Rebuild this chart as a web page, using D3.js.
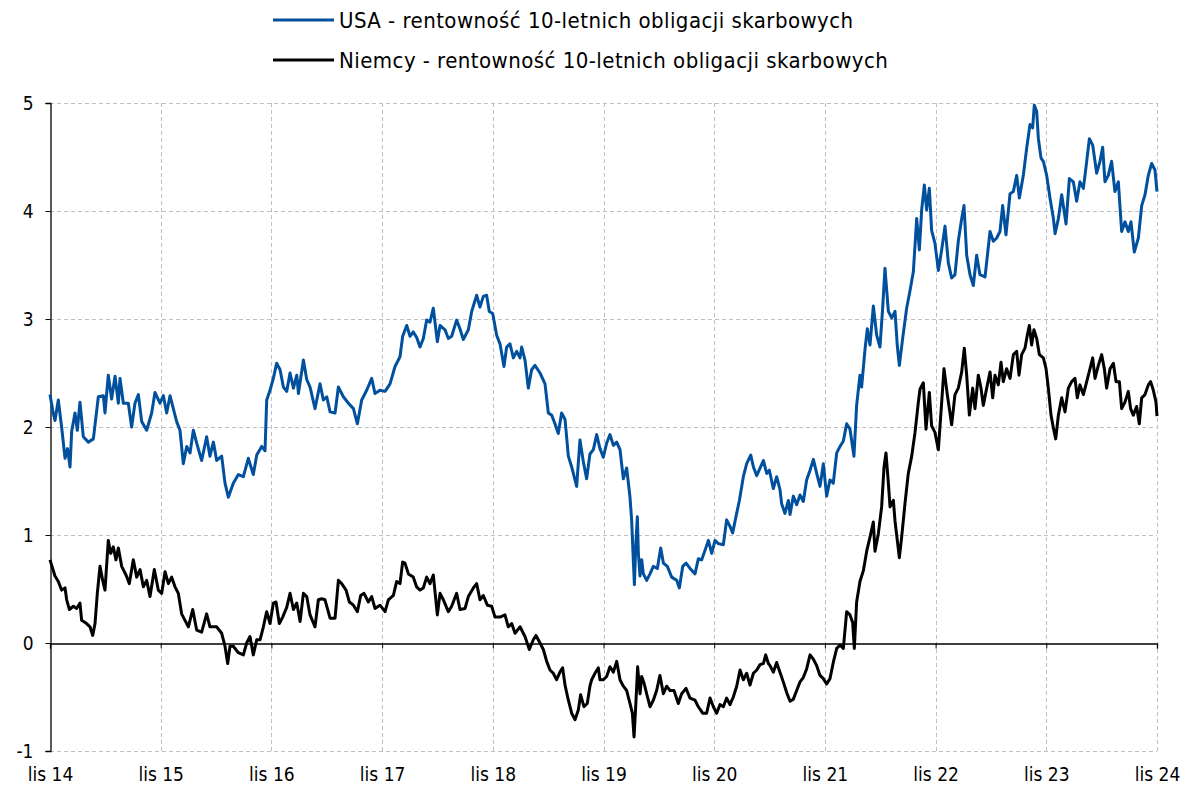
<!DOCTYPE html>
<html>
<head>
<meta charset="utf-8">
<script src="https://cdn.jsdelivr.net/npm/d3@7"></script>
<style>
  html, body { margin: 0; padding: 0; background: #ffffff; }
  svg { display: block; }
  text { font-family: "DejaVu Sans Condensed", "Liberation Sans Narrow", "Liberation Sans", sans-serif; fill: #000; }
</style>
</head>
<body>
<svg id="chart" width="1194" height="799"></svg>
<script>
// ---- data (months since lis 2014, value in %) ----
const xTickLabels = ["lis 14","lis 15","lis 16","lis 17","lis 18","lis 19","lis 20","lis 21","lis 22","lis 23","lis 24"];
const xTickMonths = [0,12,24,36,48,60,72,84,96,108,120];
const yTicks = [-1,0,1,2,3,4,5];
const seriesNames = ["USA - rentowność 10-letnich obligacji skarbowych", "Niemcy - rentowność 10-letnich obligacji skarbowych"];

const usaMonths = [0.0,0.3,0.54,0.9,1.26,1.63,1.9,2.17,2.35,2.71,2.96,3.25,3.61,4.16,4.70,5.24,5.78,5.96,6.32,6.68,7.05,7.41,7.59,7.95,8.49,8.85,9.21,9.58,9.94,10.48,11.02,11.38,11.92,12.29,12.65,13.01,13.37,13.73,14.09,14.45,14.82,15.18,15.54,15.90,16.44,16.98,17.34,17.71,18.07,18.61,18.97,19.33,
19.87,20.42,20.96,21.50,22.04,22.41,22.95,23.31,23.49,23.85,24.21,24.57,24.94,25.30,25.66,26.02,26.39,26.75,26.93,27.47,27.83,28.19,28.73,29.27,29.63,30.00,30.36,30.90,31.26,31.80,32.35,32.89,33.32,33.79,34.33,34.87,35.23,35.77,36.32,36.86,37.40,37.94,38.23,38.67,39.03,
39.38,39.74,40.11,40.47,40.83,41.19,41.55,41.99,42.28,42.82,43.18,43.54,44.08,44.44,44.80,45.35,45.71,46.25,46.61,46.97,47.33,47.62,47.99,48.42,48.78,49.21,49.50,49.86,50.23,50.59,50.95,51.13,51.49,51.85,52.21,52.57,53.12,53.66,54.02,54.38,54.74,55.10,55.46,55.83,56.19,56.55,57.09,57.45,57.81,58.17,58.53,
58.90,59.26,59.62,59.98,60.34,60.70,61.07,61.43,61.79,62.15,62.51,62.87,63.05,63.23,63.35,63.49,63.67,63.78,63.96,64.14,64.32,64.68,65.04,65.40,65.84,66.20,66.49,66.92,67.39,67.93,68.22,68.59,68.95,69.38,69.92,70.28,70.65,71.01,71.37,71.73,72.09,72.45,72.99,73.35,73.71,74.00,74.36,74.73,75.16,75.52,75.96,76.25,76.61,76.97,77.33,77.69,77.98,
78.41,78.77,79.13,79.31,79.67,80.04,80.22,80.58,80.94,81.30,81.66,82.02,82.39,82.75,83.11,83.47,83.83,84.19,84.55,84.91,85.28,85.64,86.00,86.36,86.72,87.15,87.44,87.80,87.98,88.35,88.60,88.89,89.25,89.61,89.97,90.26,90.51,90.88,91.24,91.60,91.85,92.07,92.43,92.86,93.22,93.59,93.95,94.24,94.49,94.78,95.03,95.32,95.57,95.93,96.30,96.66,97.02,97.38,
97.74,98.10,98.46,98.83,99.08,99.37,99.73,100.09,100.45,100.81,101.36,101.90,102.26,102.62,102.98,103.27,103.63,104.07,104.43,104.79,105.08,105.51,105.87,106.23,106.52,106.70,106.96,107.14,107.43,107.68,108.04,108.40,108.77,108.95,109.31,109.67,110.14,110.50,110.93,111.29,111.65,112.02,112.38,112.67,113.03,113.46,113.82,114.11,114.36,114.72,115.08,115.44,115.81,116.17,116.53,116.89,117.18,117.54,117.98,118.34,118.70,119.06,119.42,119.78,120.0];
const usaValues = [2.30,2.15,2.06,2.25,2.00,1.71,1.80,1.63,1.96,2.13,1.97,2.23,1.91,1.86,1.89,2.28,2.29,2.13,2.48,2.26,2.47,2.22,2.45,2.22,2.22,2.00,2.22,2.30,2.05,1.97,2.13,2.32,2.22,2.29,2.13,2.29,2.17,2.05,1.97,1.66,1.82,1.76,1.97,1.85,1.69,1.91,1.73,1.86,1.69,1.73,1.48,1.35,
1.48,1.56,1.54,1.71,1.56,1.74,1.82,1.78,2.25,2.34,2.45,2.59,2.53,2.37,2.33,2.50,2.36,2.48,2.31,2.62,2.44,2.37,2.17,2.40,2.25,2.28,2.14,2.13,2.37,2.28,2.22,2.17,2.03,2.25,2.34,2.45,2.31,2.34,2.33,2.40,2.56,2.65,2.84,2.94,2.84,
2.88,2.83,2.74,2.82,2.99,2.97,3.10,2.79,2.94,2.90,2.82,2.84,2.99,2.91,2.81,2.90,3.07,3.22,3.11,3.21,3.22,3.07,3.05,2.85,2.77,2.56,2.74,2.77,2.64,2.70,2.64,2.74,2.62,2.36,2.53,2.57,2.50,2.40,2.13,2.11,2.03,1.94,2.13,2.07,1.73,1.63,1.45,1.88,1.68,1.52,1.75,
1.79,1.93,1.80,1.72,1.85,1.93,1.83,1.86,1.79,1.52,1.62,1.35,1.14,0.77,0.54,0.89,1.17,0.83,0.62,0.77,0.64,0.58,0.64,0.71,0.69,0.88,0.74,0.71,0.61,0.58,0.51,0.71,0.74,0.69,0.64,0.78,0.77,0.86,0.95,0.83,0.95,0.92,0.91,1.14,1.08,1.02,1.17,1.32,1.54,1.66,1.74,1.63,1.55,1.62,1.69,1.57,1.60,
1.43,1.54,1.42,1.29,1.20,1.32,1.19,1.36,1.28,1.37,1.31,1.51,1.60,1.70,1.57,1.45,1.66,1.36,1.51,1.48,1.76,1.82,1.87,2.03,1.98,1.73,2.20,2.48,2.37,2.72,2.91,2.76,3.12,2.85,2.74,3.10,3.47,3.07,3.01,3.07,2.75,2.57,2.82,3.10,3.26,3.44,3.93,3.64,4.01,4.24,4.01,4.21,3.82,3.70,3.45,3.64,3.86,3.52,
3.38,3.41,3.72,3.93,4.05,3.59,3.41,3.31,3.59,3.41,3.39,3.81,3.72,3.75,3.81,4.05,3.78,4.16,4.18,4.33,4.12,4.33,4.58,4.80,4.77,4.98,4.92,4.67,4.49,4.46,4.33,4.12,3.93,3.79,3.93,4.15,3.88,4.30,4.27,4.09,4.27,4.21,4.46,4.67,4.61,4.35,4.46,4.59,4.27,4.33,4.46,4.18,4.27,3.81,3.90,3.81,3.90,3.62,3.75,4.05,4.15,4.33,4.44,4.38,4.18];

const deMonths = [0.0,0.54,0.90,1.26,1.63,1.81,2.10,2.53,2.89,3.25,3.43,3.97,4.34,4.63,4.88,5.13,5.42,5.71,5.96,6.32,6.58,6.86,7.15,7.41,7.77,8.24,8.60,9.03,9.40,9.76,10.12,10.48,10.84,11.31,11.74,12.11,12.47,12.83,13.19,13.55,13.91,14.27,14.63,15.00,15.47,15.90,16.44,16.98,17.34,17.71,18.07,18.61,18.97,19.26,19.51,
19.87,20.42,20.96,21.32,21.68,22.04,22.41,22.77,23.13,23.49,23.85,24.21,24.50,24.86,25.22,25.66,26.02,26.39,26.75,27.11,27.47,27.83,28.19,28.73,29.09,29.45,29.81,30.36,30.90,31.26,31.62,32.09,32.45,32.89,33.32,33.68,34.04,34.51,34.87,35.23,35.77,36.32,36.68,37.22,37.58,37.94,38.23,38.48,38.85,
39.38,39.74,40.11,40.47,40.83,41.19,41.55,41.99,42.28,42.64,43.18,43.54,44.08,44.44,44.99,45.35,45.89,46.25,46.61,46.97,47.41,47.88,48.24,48.78,49.32,49.68,50.05,50.41,50.95,51.49,51.96,52.39,52.68,53.12,53.48,53.84,54.20,54.56,54.92,55.28,55.57,55.83,56.19,56.55,56.91,57.27,57.52,57.88,58.24,58.53,
58.72,59.08,59.44,59.62,59.98,60.34,60.70,61.07,61.43,61.79,62.15,62.51,62.87,63.13,63.31,63.49,63.70,63.96,64.14,64.39,64.68,65.04,65.40,65.76,66.12,66.49,66.85,67.21,67.64,68.11,68.47,68.94,69.38,69.92,70.28,70.75,71.18,71.55,71.91,72.27,72.63,72.99,73.35,73.71,74.07,74.44,74.80,75.16,75.52,75.88,76.25,76.61,76.97,77.33,77.58,77.87,
78.05,78.41,78.77,79.13,79.49,79.86,80.22,80.58,80.94,81.30,81.66,82.02,82.39,82.75,83.11,83.47,83.83,84.19,84.55,84.91,85.28,85.64,86.00,86.36,86.72,87.01,87.19,87.44,87.80,88.17,88.53,88.89,89.25,89.43,89.79,90.15,90.41,90.62,90.88,91.06,91.42,91.60,92.07,92.32,92.68,93.04,93.41,93.77,94.13,94.31,94.67,94.96,95.32,95.57,95.93,96.30,96.66,96.91,
97.27,97.49,97.74,98.10,98.46,98.83,99.11,99.37,99.66,100.02,100.27,100.63,100.92,101.17,101.54,101.90,102.19,102.44,102.80,103.09,103.34,103.70,104.07,104.43,104.79,105.04,105.33,105.69,105.94,106.16,106.41,106.66,106.96,107.25,107.68,107.97,108.22,108.51,108.77,109.02,109.31,109.67,110.03,110.39,110.75,111.11,111.36,111.65,112.02,112.38,112.74,113.03,113.28,113.64,114.00,114.29,114.54,114.91,115.27,115.56,115.92,116.17,116.53,116.89,117.14,117.43,117.79,118.08,118.34,118.70,119.06,119.31,119.60,119.89,120.0];
const deValues = [0.77,0.62,0.57,0.49,0.51,0.40,0.31,0.34,0.32,0.37,0.21,0.18,0.15,0.07,0.18,0.46,0.71,0.58,0.49,0.95,0.83,0.89,0.77,0.88,0.71,0.63,0.55,0.77,0.61,0.68,0.52,0.58,0.43,0.68,0.49,0.46,0.66,0.55,0.61,0.52,0.46,0.27,0.21,0.15,0.31,0.12,0.10,0.27,0.15,0.15,0.15,0.09,-0.03,-0.19,-0.03,
-0.03,-0.09,-0.11,0.00,0.06,-0.11,0.03,0.03,0.15,0.29,0.18,0.37,0.38,0.18,0.24,0.33,0.46,0.31,0.37,0.20,0.46,0.43,0.26,0.15,0.40,0.41,0.40,0.23,0.23,0.58,0.55,0.49,0.38,0.35,0.29,0.44,0.46,0.38,0.43,0.32,0.35,0.29,0.40,0.44,0.57,0.55,0.75,0.74,0.64,
0.61,0.52,0.49,0.51,0.61,0.55,0.63,0.26,0.46,0.40,0.29,0.34,0.46,0.31,0.32,0.43,0.51,0.55,0.40,0.44,0.35,0.34,0.24,0.24,0.26,0.15,0.18,0.09,0.15,0.06,-0.06,0.03,0.07,0.00,-0.06,-0.17,-0.25,-0.28,-0.34,-0.27,-0.23,-0.39,-0.53,-0.65,-0.71,-0.62,-0.48,-0.59,-0.56,-0.40,
-0.34,-0.28,-0.23,-0.34,-0.34,-0.31,-0.22,-0.27,-0.17,-0.34,-0.40,-0.44,-0.56,-0.65,-0.87,-0.59,-0.22,-0.47,-0.31,-0.37,-0.47,-0.59,-0.53,-0.44,-0.30,-0.47,-0.40,-0.44,-0.44,-0.56,-0.47,-0.42,-0.51,-0.53,-0.59,-0.65,-0.65,-0.51,-0.59,-0.65,-0.57,-0.59,-0.51,-0.57,-0.50,-0.40,-0.25,-0.34,-0.28,-0.39,-0.28,-0.25,-0.20,-0.19,-0.11,-0.19,
-0.21,-0.27,-0.18,-0.27,-0.36,-0.46,-0.54,-0.52,-0.44,-0.36,-0.32,-0.24,-0.11,-0.15,-0.21,-0.30,-0.33,-0.38,-0.33,-0.18,-0.05,-0.02,-0.05,0.29,0.26,0.19,-0.05,0.38,0.57,0.67,0.85,0.98,1.12,0.85,1.01,1.26,1.63,1.76,1.48,1.26,1.32,1.13,0.79,0.98,1.29,1.57,1.73,1.95,2.23,2.35,2.41,1.98,2.32,2.01,1.95,1.79,2.23,2.54,
2.30,2.17,2.02,2.30,2.36,2.51,2.73,2.48,2.11,2.36,2.17,2.48,2.36,2.20,2.36,2.51,2.27,2.48,2.39,2.60,2.42,2.54,2.45,2.67,2.70,2.48,2.67,2.73,2.85,2.94,2.76,2.90,2.82,2.67,2.64,2.54,2.36,2.11,1.99,1.89,2.11,2.27,2.14,2.36,2.42,2.45,2.27,2.39,2.30,2.42,2.54,2.64,2.45,2.57,2.67,2.54,2.36,2.54,2.59,2.42,2.42,2.17,2.23,2.33,2.17,2.11,2.19,2.03,2.27,2.30,2.39,2.42,2.34,2.23,2.10];

// ---- styles ----
const usaColor = "#00509e";
const deColor = "#000000";
const gridColor = "#c0c0c0";
const fontStack = '"DejaVu Sans Condensed", "Liberation Sans Narrow", sans-serif';

const svg = d3.select("#chart");
const plotLeft = 50, plotRight = 1157, plotTop = 103, plotBottom = 751;

const x = d3.scaleLinear().domain([0, 120]).range([plotLeft, plotRight]);
const y = d3.scaleLinear().domain([-1, 5]).range([plotBottom, plotTop]);

// horizontal grid
svg.append("g").selectAll("line")
  .data(yTicks.filter(d => d !== 0))
  .join("line")
  .attr("x1", plotLeft).attr("x2", plotRight)
  .attr("y1", d => Math.round(y(d)) + 0.5).attr("y2", d => Math.round(y(d)) + 0.5)
  .attr("stroke", gridColor).attr("stroke-width", 1).attr("stroke-dasharray", "4,3");

// vertical grid
svg.append("g").selectAll("line")
  .data(xTickMonths.filter(d => d !== 0))
  .join("line")
  .attr("x1", d => Math.round(x(d)) + 0.5).attr("x2", d => Math.round(x(d)) + 0.5)
  .attr("y1", plotTop).attr("y2", plotBottom)
  .attr("stroke", gridColor).attr("stroke-width", 1).attr("stroke-dasharray", "4,3");

// zero axis with ticks
const xAxisZero = d3.axisBottom(x).tickValues(xTickMonths).tickSize(5).tickFormat("");
const gz = svg.append("g").attr("transform", `translate(0,${Math.round(y(0)) + 0.5})`).call(xAxisZero);
gz.select(".domain").attr("stroke", "#000").attr("stroke-width", 1.3);
gz.selectAll(".tick line").attr("stroke", "#000");

// x labels
const xAxisLabels = d3.axisBottom(x).tickValues(xTickMonths).tickSize(0).tickPadding(17)
  .tickFormat((d, i) => xTickLabels[i]);
const gx = svg.append("g").attr("transform", `translate(0,${plotBottom})`).call(xAxisLabels);
gx.select(".domain").remove();
gx.selectAll("text").attr("font-size", 19).attr("fill", "#000").style("font-family", fontStack);

// y axis
const yAxis = d3.axisLeft(y).tickValues(yTicks).tickSize(5).tickPadding(12).tickFormat(d => String(d));
const gy = svg.append("g").attr("transform", `translate(${plotLeft + 0.5},0)`).call(yAxis);
gy.select(".domain").attr("stroke", "#000").attr("stroke-width", 1.3);
gy.selectAll(".tick line").attr("stroke", "#000");
gy.selectAll("text").attr("font-size", 19).attr("fill", "#000").style("font-family", fontStack);

// lines
const line = d3.line().x(d => x(d[0])).y(d => y(d[1]));
const usaData = usaMonths.map((m, i) => [m, usaValues[i]]);
const deData = deMonths.map((m, i) => [m, deValues[i]]);

svg.append("path").datum(deData)
  .attr("fill", "none").attr("stroke", deColor).attr("stroke-width", 3)
  .attr("stroke-linejoin", "round").attr("d", line);
svg.append("path").datum(usaData)
  .attr("fill", "none").attr("stroke", usaColor).attr("stroke-width", 3)
  .attr("stroke-linejoin", "round").attr("d", line);

// legend
const legend = svg.append("g");
const legendItems = [{name: seriesNames[0], color: usaColor, ly: 20}, {name: seriesNames[1], color: deColor, ly: 60}];
legendItems.forEach(it => {
  legend.append("line").attr("x1", 273).attr("x2", 334).attr("y1", it.ly).attr("y2", it.ly)
    .attr("stroke", it.color).attr("stroke-width", 3);
  legend.append("text").attr("x", 339).attr("y", it.ly).attr("dy", "0.35em")
    .attr("font-size", 22).attr("letter-spacing", 0.45).style("font-family", fontStack).text(it.name);
});
</script>
</body>
</html>
